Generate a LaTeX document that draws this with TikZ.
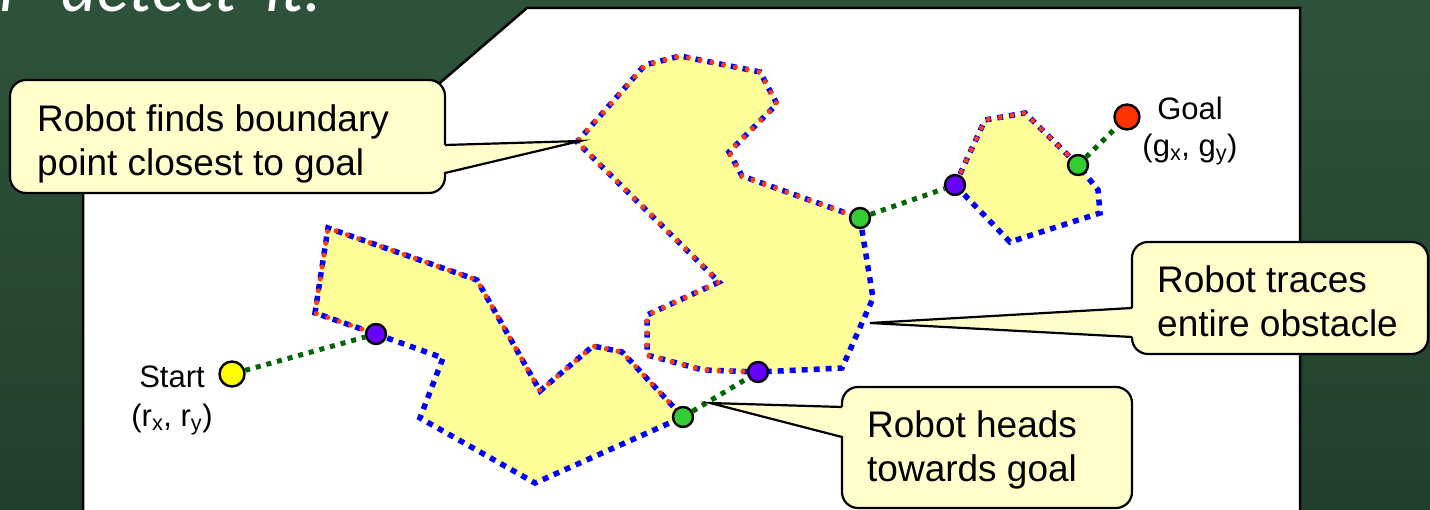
\documentclass[tikz,border=0pt]{standalone}
\usepackage{fontspec}
\setmainfont{Liberation Sans}
\newfontfamily\handfont{Lato}
\definecolor{boardtop}{HTML}{2D5139}
\definecolor{boardbot}{HTML}{213E2C}
\definecolor{obstfill}{HTML}{FFFF99}
\definecolor{edgeblue}{HTML}{0000FF}
\definecolor{tracered}{HTML}{FF3C0A}
\definecolor{pathgreen}{HTML}{006600}
\definecolor{hitpurple}{HTML}{6600FF}
\definecolor{leavegreen}{HTML}{33CC33}
\definecolor{startyellow}{HTML}{FFFF00}
\definecolor{goalred}{HTML}{FF3300}
\definecolor{callfill}{HTML}{FFFFCC}
\begin{document}
\begin{tikzpicture}[x=1pt,y=-1pt,
  obstacle/.style={fill=obstfill},
  boundary/.style={draw=edgeblue, line width=5.5pt, dash pattern=on 6pt off 6pt},
  traced/.style={draw=tracered, line width=5pt, line cap=round, dash pattern=on 0pt off 12pt, dash phase=-3pt},
  route/.style={draw=pathgreen, line width=5pt, dash pattern=on 5pt off 6pt},
  pt/.style={circle, draw=black, line width=2.4pt, inner sep=0pt, minimum size=20pt},
  hitpt/.style={pt, fill=hitpurple},
  leavept/.style={pt, fill=leavegreen},
  endpt/.style={pt, minimum size=25pt},
  callbox/.style={draw=black, fill=callfill, line width=2.2pt, rounded corners=16pt, inner sep=0pt},
  callline/.style={draw=black, line width=2.2pt},
  calltext/.style={anchor=base west, inner sep=0pt, font=\fontsize{37}{44}\selectfont},
  lbl/.style={anchor=base, inner sep=0pt, font=\fontsize{31}{38}\selectfont}
]
\useasboundingbox (0,0) rectangle (1430,510);

% chalkboard
\fill[boardtop] (0,0) rectangle (1430,510);
\shade[top color=boardtop, bottom color=boardbot] (0,60) rectangle (1430,510);
\node[anchor=base west, inner sep=0pt, text=white,
      font=\handfont\itshape\fontsize{67}{80}\selectfont] (title) at (0,12) {r\hspace{23pt} detect\hspace{12pt} it.};

% white workspace panel
\path[fill=white, draw=black, line width=2.5pt]
  (83,520) -- (83,100) -- (420,100) -- (527,8) -- (1300,8) -- (1300,520);

% hit and leave points on the obstacle boundaries
\coordinate (h1) at (376,334);
\coordinate (l1) at (683,417);
\coordinate (h2) at (758,372);
\coordinate (l2) at (860,218);
\coordinate (h3) at (955,185);
\coordinate (l3) at (1078,165);

% obstacle 1
\path[obstacle, boundary] (h1) -- (443,358) -- (420,418) -- (535,483) -- (l1) -- (622,352)
  -- (593,346) -- (540,391) -- (477,280) -- (328,228) -- (315,313) -- cycle;
\path[traced] (h1) -- (315,313) -- (328,228) -- (477,280) -- (540,391) -- (593,346)
  -- (622,352) -- (l1);

% obstacle 2
\path[obstacle, boundary] (l2) -- (873,298) -- (842,368) -- (h2) -- (703,370) -- (647,355)
  -- (647,315) -- (719,282) -- (577,142) -- (645,65) -- (680,56) -- (760,72)
  -- (777,104) -- (729,152) -- (742,176) -- cycle;
\path[traced] (h2) -- (703,370) -- (647,355) -- (647,315) -- (719,282) -- (577,142)
  -- (645,65) -- (680,56) -- (760,72) -- (777,104) -- (729,152) -- (742,176) -- (l2);

% obstacle 3
\path[obstacle, boundary] (h3) -- (985,120) -- (1025,113) -- (l3) -- (1098,190)
  -- (1100,213) -- (1010,242) -- cycle;
\path[traced] (h3) -- (985,120) -- (1025,113) -- (l3);

% robot positions
\node[endpt, fill=startyellow] (start) at (232,374) {};
\node[endpt, fill=goalred] (goal) at (1127,117) {};
\node[hitpt] (hit1) at (h1) {};
\node[leavept] (leave1) at (l1) {};
\node[hitpt] (hit2) at (h2) {};
\node[leavept] (leave2) at (l2) {};
\node[hitpt] (hit3) at (h3) {};
\node[leavept] (leave3) at (l3) {};

% straight-line motion towards the goal
\draw[route] (start) -- (hit1);
\draw[route] (leave1) -- (hit2);
\draw[route] (leave2) -- (hit3);
\draw[route] (leave3) -- (goal);

% labels
\node[lbl] (startname) at (172,388) {Start};
\node[lbl] (startxy) at (172,427) {(r\textsubscript{x}, r\textsubscript{y})};
\node[lbl] (goalname) at (1190,120) {Goal};
\node[lbl] (goalxy) at (1190,157) {(g\textsubscript{x}, g\textsubscript{y})};

% callout: boundary point
\node[callbox, minimum width=435pt, minimum height=113pt] (c1) at (227.5,136.5) {};
\coordinate (tip1) at (580,141);
\fill[callfill] (440,145) -- (tip1) -- (440,173) -- cycle;
\draw[callline] (445,145) -- (tip1) -- (445,173);
\node[calltext] (c1text) at (37,132) {\begin{tabular}[t]{@{}l@{}}Robot finds boundary\\point closest to goal\end{tabular}};

% callout: traces obstacle
\node[callbox, minimum width=296pt, minimum height=112pt] (c2) at (1280,298) {};
\coordinate (tip2) at (870,323);
\fill[callfill] (1137,308) -- (tip2) -- (1137,337) -- cycle;
\draw[callline] (1132,308) -- (tip2) -- (1132,337);
\node[calltext] (c2text) at (1157,293) {\begin{tabular}[t]{@{}l@{}}Robot traces\\entire obstacle\end{tabular}};

% callout: heads towards goal
\node[callbox, minimum width=290pt, minimum height=121pt] (c3) at (987,447.5) {};
\coordinate (tip3) at (710,403);
\fill[callfill] (847,407) -- (tip3) -- (847,437) -- cycle;
\draw[callline] (842,407) -- (tip3) -- (842,437);
\node[calltext] (c3text) at (867,438) {\begin{tabular}[t]{@{}l@{}}Robot heads\\towards goal\end{tabular}};
\end{tikzpicture}
\end{document}
